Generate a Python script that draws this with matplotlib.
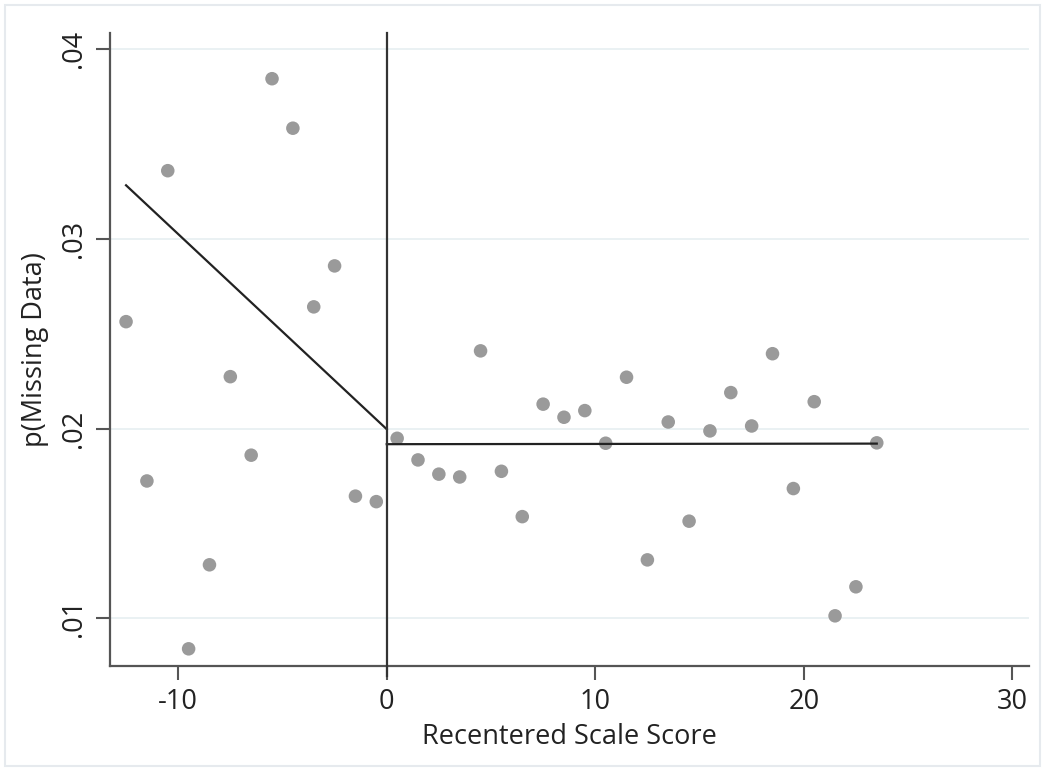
import matplotlib
matplotlib.use("Agg")
import matplotlib.pyplot as plt
from matplotlib.patches import Rectangle

plt.rcParams['font.family'] = ['Open Sans', 'DejaVu Sans']
plt.rcParams['axes.unicode_minus'] = False

# Binned means of missing-data probability by recentered scale score
score_bins = [-12.5, -11.5, -10.5, -9.5, -8.5, -7.5, -6.5, -5.5, -4.5, -3.5,
              -2.5, -1.5, -0.5, 0.5, 1.5, 2.5, 3.5, 4.5, 5.5, 6.5,
              7.5, 8.5, 9.5, 10.5, 11.5, 12.5, 13.5, 14.5, 15.5, 16.5,
              17.5, 18.5, 19.5, 20.5, 21.5, 22.5, 23.5]
p_missing = [0.02564, 0.01724, 0.03360, 0.00839, 0.01282, 0.02274, 0.01860, 0.03845, 0.03584, 0.02642,
             0.02858, 0.01644, 0.01615, 0.01949, 0.01835, 0.01760, 0.01745, 0.02410, 0.01775, 0.01536,
             0.02129, 0.02060, 0.02095, 0.01923, 0.02271, 0.01308, 0.02035, 0.01512, 0.01988, 0.02190,
             0.02014, 0.02395, 0.01684, 0.02142, 0.01013, 0.01166, 0.01925]

# Linear fits on each side of the cutoff
left_fit_x = [-12.5, 0.0]
left_fit_y = [0.03283, 0.01997]
right_fit_x = [0.0, 23.5]
right_fit_y = [0.01918, 0.01921]

cutoff = 0.0
x_ticks = [-10, 0, 10, 20, 30]
y_ticks = [0.01, 0.02, 0.03, 0.04]
y_tick_labels = ['.01', '.02', '.03', '.04']

W, H = 1045, 769
fig = plt.figure(figsize=(W / 100, H / 100), dpi=100)
fig.patch.set_facecolor('white')

# light outer frame
fig.patches.append(Rectangle((5 / W, 3 / H), 1035 / W, 761 / H, transform=fig.transFigure,
                             fill=False, edgecolor='#e6eaee', linewidth=1.5))

ax = fig.add_axes([110 / W, 1 - 665.7 / H, (1029 - 110) / W, (665.7 - 33) / H])
ax.set_xlim(-13.27, 30.8)
ax.set_ylim(0.0075, 0.04086)

for yv in y_ticks:
    ax.axhline(yv, color='#e8f0f2', linewidth=1.3, zorder=0)

ax.scatter(score_bins, p_missing, s=95, color='#9a9a9a', edgecolors='none', zorder=3)
ax.plot(left_fit_x, left_fit_y, color='#222222', linewidth=1.6, zorder=4)
ax.plot(right_fit_x, right_fit_y, color='#222222', linewidth=1.6, zorder=4)
ax.plot([cutoff, cutoff], [0.04086, 0.0075 - 10.5 / 18970], color='#333333', linewidth=1.6,
        zorder=4, clip_on=False)

ax.set_xticks(x_ticks)
ax.set_yticks(y_ticks)
ax.set_yticklabels(y_tick_labels, rotation=90, va='center')
ax.tick_params(axis='both', direction='out', length=10, width=1.5, color='#555555',
               labelsize=19.5, labelcolor='#222222', pad=6)

for side in ['top', 'right']:
    ax.spines[side].set_visible(False)
for side in ['left', 'bottom']:
    ax.spines[side].set_color('#555555')
    ax.spines[side].set_linewidth(1.6)

ax.set_xlabel('Recentered Scale Score', fontsize=19.5, color='#222222', labelpad=5)
ax.set_ylabel('p(Missing Data)', fontsize=19.5, color='#222222', labelpad=8)

fig.savefig('out.png', dpi=100, facecolor='white')
